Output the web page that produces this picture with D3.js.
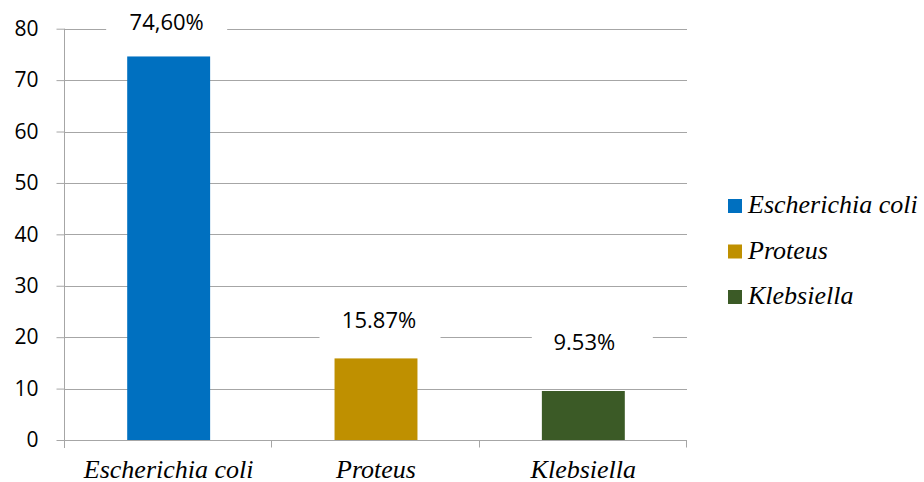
<!DOCTYPE html>
<html><head><meta charset="utf-8">
<script src="https://cdn.jsdelivr.net/npm/d3@7"></script>
<style>body{margin:0;background:#fff}svg{display:block}</style>
</head><body>
<svg id="c" width="924" height="482"></svg>
<script>
const categories = ["Escherichia coli", "Proteus", "Klebsiella"];
const values = [74.6, 15.87, 9.53];
const valueLabels = ["74,60%", "15.87%", "9.53%"];
const colors = ["#0070c0", "#bf9000", "#3b5a26"];
const yTicks = [0, 10, 20, 30, 40, 50, 60, 70, 80];

(function () {
const svg = d3.select("#c");
const pLeft = 65, pRight = 687, pTop = 28.7, pBottom = 440;
const x = d3.scaleBand().domain(categories).range([pLeft, pRight]).paddingInner(0.6).paddingOuter(0.3);
const xb = d3.scaleBand().domain(categories).range([pLeft, pRight]);
const y = d3.scaleLinear().domain([0, 80]).range([pBottom, pTop]);
const labelFont = '"Open Sans", sans-serif';
const serifFont = '"Liberation Serif", "Times New Roman", serif';
const gridColor = "#a6a6a6";

// gridlines
svg.append("g").selectAll("line").data(yTicks.filter(d => d > 0)).join("line")
  .attr("x1", pLeft).attr("x2", pRight)
  .attr("y1", d => Math.round(y(d)) + 0.5).attr("y2", d => Math.round(y(d)) + 0.5)
  .attr("stroke", gridColor).attr("stroke-width", 1);

// y axis
const yAxis = svg.append("g").attr("transform", `translate(${pLeft - 0.5},0)`)
  .call(d3.axisLeft(y).tickValues(yTicks).tickSize(8).tickPadding(18).tickFormat(d3.format("d")));
yAxis.select(".domain").attr("stroke", gridColor).attr("d", `M0,${pTop}V${pBottom + 8}`);
yAxis.selectAll(".tick line").attr("stroke", gridColor);
yAxis.selectAll(".tick text").style("font-family", labelFont).attr("font-size", 21).attr("fill", "#000");

// x axis
const xAxisG = svg.append("g").attr("transform", `translate(0,${Math.round(pBottom) + 0.5})`);
xAxisG.append("line").attr("x1", pLeft).attr("x2", pRight).attr("stroke", gridColor);
const edges = categories.map(c => xb(c)).concat([pRight]);
xAxisG.selectAll("line.t").data(edges).join("line").attr("class", "t")
  .attr("x1", d => Math.round(d) - 0.5).attr("x2", d => Math.round(d) - 0.5)
  .attr("y1", 0).attr("y2", 7).attr("stroke", gridColor);
xAxisG.selectAll("text").data(categories).join("text")
  .attr("x", d => xb(d) + xb.bandwidth() / 2).attr("y", 37.5)
  .attr("text-anchor", "middle").style("font-family", serifFont)
  .style("font-style", "italic").attr("font-size", 26).attr("fill", "#000").text(d => d);

// bars
svg.append("g").selectAll("rect").data(categories).join("rect")
  .attr("x", d => x(d)).attr("width", x.bandwidth())
  .attr("y", (d, i) => y(values[i])).attr("height", (d, i) => y(0) - y(values[i]))
  .attr("fill", (d, i) => colors[i]);

// value labels with white backgrounds (manually placed in the original)
const lblBaseline = (i) => i === 0 ? 29.5 : y(values[i]) - (i === 1 ? 30 : 41);
const lblShift = [-2, 3, 1];
const boxShift = [-2, 4, 9];
const lbl = svg.append("g").selectAll("g").data(categories).join("g")
  .attr("transform", (d, i) => `translate(${x(d) + x.bandwidth() / 2},${lblBaseline(i)})`);
lbl.append("rect").attr("x", (d, i) => -60.5 + boxShift[i]).attr("y", -22).attr("width", 121).attr("height", 32).attr("fill", "#fff");
lbl.append("text").attr("text-anchor", "middle").attr("x", (d, i) => lblShift[i])
  .style("font-family", labelFont).attr("font-size", 22).attr("fill", "#000")
  .text((d, i) => valueLabels[i]);

// legend
const leg = svg.append("g").selectAll("g").data(categories).join("g")
  .attr("transform", (d, i) => `translate(728,${199 + i * 45.5})`);
leg.append("rect").attr("width", 14).attr("height", 14).attr("fill", (d, i) => colors[i]);
leg.append("text").attr("x", 20).attr("y", 14)
  .style("font-family", serifFont).style("font-style", "italic")
  .attr("font-size", 26).attr("fill", "#000").text(d => d);
})();
</script>
</body></html>
